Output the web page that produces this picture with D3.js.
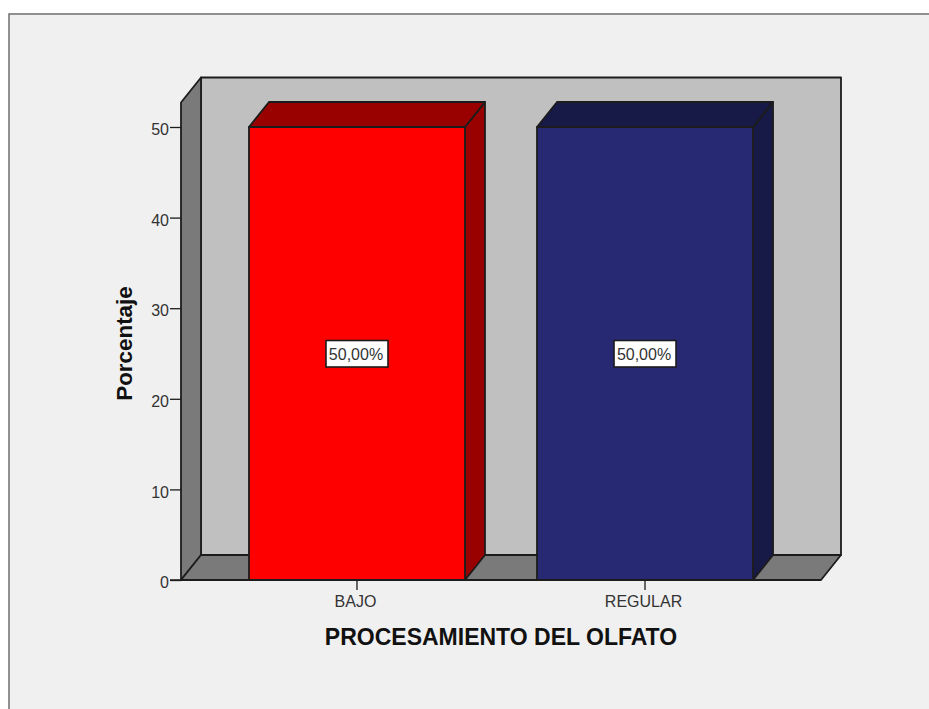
<!DOCTYPE html>
<html><head><meta charset="utf-8">
<script src="https://cdnjs.cloudflare.com/ajax/libs/d3/7.8.5/d3.min.js"></script>
<style>
html,body{margin:0;padding:0;background:#fff}
svg{display:block}
text{font-family:"Liberation Sans",Arial,sans-serif}
</style></head><body>
<svg id="c" width="929" height="709"></svg>
<script>
const categories = ["BAJO","REGULAR"];
const values = [50,50];
const valueLabels = ["50,00%","50,00%"];
const yTicks = [0,10,20,30,40,50];
const frontColors = ["#ff0000","#272a73"];
const sideColors = ["#990000","#171946"];
const xTitle = "PROCESAMIENTO DEL OLFATO";
const yTitle = "Porcentaje";

const svg = d3.select("#c");
const ink = "#1c1c1c";
const dx = 20, dy = -25;
const y = d3.scaleLinear().domain([0,50]).range([580,127]);
const x = d3.scaleBand().domain(categories).range([181,821]).paddingInner(0.25).paddingOuter(0.236);
const yTop = 102.5, yBase = y(0), xL = 181, xR = 821;
const poly = (pts,fill,sw=1.8)=>svg.append("path").attr("d","M"+pts.map(p=>p.join(",")).join("L")+"Z")
  .attr("fill",fill).attr("stroke",ink).attr("stroke-width",sw).attr("stroke-linejoin","round");

// frame
svg.append("rect").attr("x",0).attr("y",0).attr("width",929).attr("height",709).attr("fill","#fff");
svg.append("rect").attr("x",9).attr("y",14).attr("width",930).attr("height",710)
  .attr("fill","#f0f0f0").attr("stroke","#777").attr("stroke-width",1.6);

// walls
poly([[xL+dx,yTop+dy],[xR+dx,yTop+dy],[xR+dx,yBase+dy],[xL+dx,yBase+dy]],"#c0c0c0");
poly([[xL,yTop],[xL+dx,yTop+dy],[xL+dx,yBase+dy],[xL,yBase]],"#7a7a7a");
poly([[xL,yBase],[xL+dx,yBase+dy],[xR+dx,yBase+dy],[xR,yBase]],"#7a7a7a");

// bars
categories.forEach((c,i)=>{
  const x0 = x(c), x1 = x0+x.bandwidth(), t = y(values[i]);
  poly([[x1,t],[x1+dx,t+dy],[x1+dx,yBase+dy],[x1,yBase]],sideColors[i]);
  poly([[x0,t],[x0+dx,t+dy],[x1+dx,t+dy],[x1,t]],sideColors[i]);
  poly([[x0,t],[x1,t],[x1,yBase],[x0,yBase]],frontColors[i]);
});

// axes
const gy = svg.append("g").attr("transform",`translate(${xL},0)`)
  .call(d3.axisLeft(y).tickValues(yTicks).tickSize(11).tickPadding(1).tickFormat(d3.format("d")));
gy.select(".domain").remove();
gy.selectAll("line").attr("stroke",ink).attr("stroke-width",1.3);
gy.selectAll("text").attr("font-size",16).attr("fill","#333").attr("dy","7.6px");

const gx = svg.append("g").attr("transform",`translate(0,${yBase})`)
  .call(d3.axisBottom(x).tickSize(10).tickPadding(4));
gx.select(".domain").attr("d",`M${xL-11},0H${xR}`).attr("stroke",ink).attr("stroke-width",1.5);
gx.selectAll("line").attr("stroke",ink).attr("stroke-width",1.3);
gx.selectAll("text").attr("font-size",16).attr("fill","#333").attr("y",27).attr("dy",0).attr("dx",-1.5);

// value labels
categories.forEach((c,i)=>{
  const cx = x(c)+x.bandwidth()/2, cy = y(values[i]/2);
  svg.append("rect").attr("x",cx-31).attr("y",cy-13).attr("width",62).attr("height",26.5)
    .attr("fill","#fff").attr("stroke",ink).attr("stroke-width",1.6);
  svg.append("text").attr("x",cx-1).attr("y",cy+6).attr("text-anchor","middle")
    .attr("font-size",16).attr("fill","#333").text(valueLabels[i]);
});

// titles
svg.append("text").attr("x",501).attr("y",645).attr("text-anchor","middle")
  .attr("font-size",23).attr("font-weight","bold").attr("fill","#111").text(xTitle);
svg.append("text").attr("transform","translate(132,343.5) rotate(-90)").attr("text-anchor","middle")
  .attr("font-size",22.4).attr("font-weight","bold").attr("fill","#111").text(yTitle);
</script>
</body></html>
